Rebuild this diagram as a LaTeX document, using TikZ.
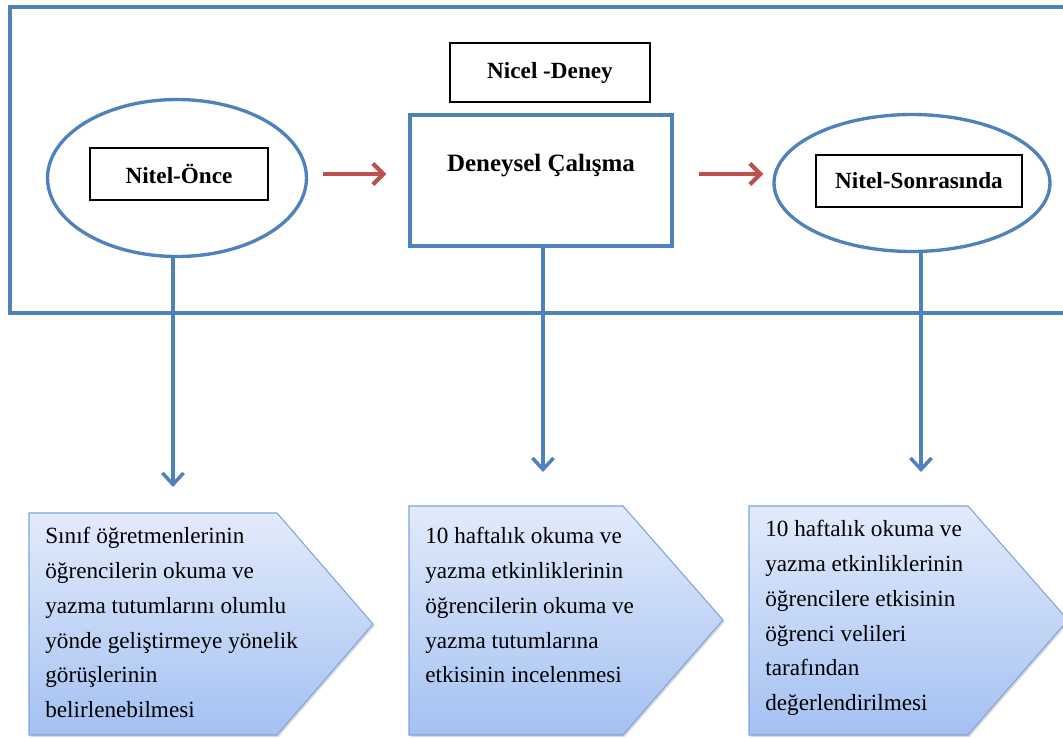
\documentclass[tikz,border=0pt]{standalone}
\usepackage{fontspec}
\setmainfont{Liberation Serif}
\usepackage{tikz}
\usetikzlibrary{calc,arrows.meta,shapes.geometric,shadows}
\definecolor{frameblue}{HTML}{4F81BD}
\definecolor{arrowred}{HTML}{C0504D}
\definecolor{pentline}{HTML}{7EA3D9}
\definecolor{penttop}{HTML}{E2EBFB}
\definecolor{pentbot}{HTML}{A4C1F2}
\tikzset{
  frame/.style={draw=frameblue, line width=2pt},
  oval/.style={ellipse, draw=frameblue, line width=1.9pt, inner sep=0pt},
  bigbox/.style={rectangle, draw=frameblue, line width=1.9pt, inner sep=0pt},
  tag/.style={rectangle, draw=black, line width=0.8pt, fill=white, inner sep=0pt,
    font=\fontsize{13.2}{15}\selectfont\bfseries,
    drop shadow={shadow xshift=0.6pt, shadow yshift=-0.6pt, opacity=0.35}},
  flow/.style={draw=arrowred, line width=2.4pt, -{Straight Barb[length=6pt,width=12pt]}},
  down/.style={draw=frameblue, line width=2pt, -{Straight Barb[length=6.5pt,width=12pt]}},
  pent/.style={draw=pentline, line width=0.6pt, top color=penttop, bottom color=pentbot,
    drop shadow={shadow xshift=1pt, shadow yshift=-1pt, opacity=0.3}},
  desc/.style={anchor=north west, inner sep=0pt, align=left, font=\fontsize{13.2}{19.8}\selectfont},
}

\begin{document}
\begin{tikzpicture}[x=0.02cm, y=-0.02cm]
  \useasboundingbox (0,0) rectangle (1063,738);
  \clip (0,0) rectangle (1063,738);

  \draw[frame] (10,7) rectangle (1085,313);

  % top row
  \node[oval, minimum width=5.18cm, minimum height=3.14cm] (once) at (177,178) {};
  \node[tag, minimum width=3.56cm, minimum height=1.04cm] (onceTag) at (179,174) {Nitel-Önce};

  \node[tag, minimum width=4cm, minimum height=1.18cm] (nicel) at (550,72.5) {Nicel -Deney};
  \node[bigbox, minimum width=5.24cm, minimum height=2.62cm] (deney) at (541,180.5) {};
  \node[font=\fontsize{14.2}{16}\selectfont\bfseries] (deneyText) at (541,166) {Deneysel Çalışma};

  \node[oval, minimum width=5.52cm, minimum height=2.74cm] (sonra) at (912,183) {};
  \node[tag, minimum width=4.12cm, minimum height=1.04cm] (sonraTag) at (919,181) {Nitel-Sonrasında};

  \draw[flow, shorten <=0.3cm, shorten >=0.44cm] (once.east |- onceTag.east) -- (deney.west |- onceTag.east);
  \draw[flow, shorten <=0.5cm, shorten >=0.18cm] (deney.east |- onceTag.east) -- (sonra.west |- onceTag.east);

  % bottom row
  \path[pent] (29,513) -- (277,513) -- (373,624) -- (277,735) -- (29,735) -- cycle;
  \path[pent] (409,506) -- (623,506) -- (723,620) -- (623,735) -- (409,735) -- cycle;
  \path[pent] (749,506) -- (968,506) -- (1068,620) -- (968,735) -- (749,735) -- cycle;

  \node[desc] (textA) at (45,527) {Sınıf öğretmenlerinin\\öğrencilerin okuma ve\\yazma tutumlarını olumlu\\yönde geliştirmeye yönelik\\görüşlerinin\\belirlenebilmesi};
  \node[desc] (textB) at (425,527) {10 haftalık okuma ve\\yazma etkinliklerinin\\öğrencilerin okuma ve\\yazma tutumlarına\\etkisinin incelenmesi};
  \node[desc] (textC) at (765,520) {10 haftalık okuma ve\\yazma etkinliklerinin\\öğrencilere etkisinin\\öğrenci velileri\\tarafından\\değerlendirilmesi};

  \coordinate (endA) at (173,487);
  \coordinate (endB) at (543,472);
  \coordinate (endC) at (921,472);
  \draw[down] (endA |- once.south) -- (endA);
  \draw[down] (endB |- deney.south) -- (endB);
  \draw[down] (endC |- sonra.south) -- (endC);
\end{tikzpicture}
\end{document}
